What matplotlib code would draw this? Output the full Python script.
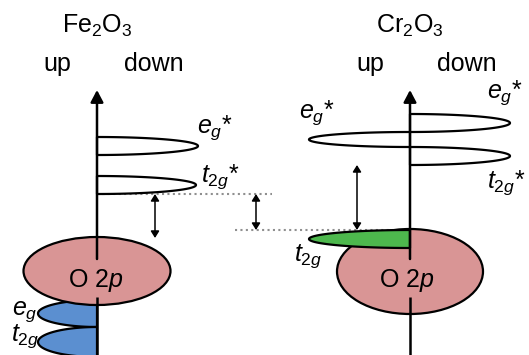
import numpy as np
import matplotlib
matplotlib.use("Agg")
import matplotlib.pyplot as plt
from matplotlib.patches import Ellipse, Polygon, FancyArrowPatch

plt.rcParams["font.family"] = ["Liberation Sans", "DejaVu Sans"]
plt.rcParams["mathtext.fontset"] = "custom"
plt.rcParams["mathtext.rm"] = "Liberation Sans"
plt.rcParams["mathtext.it"] = "Liberation Sans:italic"
plt.rcParams["mathtext.bf"] = "Liberation Sans:bold"

# Two oxides, each with its own energy axis (drawing units, y grows downward)
materials = ["Fe$_2$O$_3$", "Cr$_2$O$_3$"]
axis_x = [97, 410]

# d bands: material index, top, bottom, tip position, fill
band_material = [0, 0, 0, 0, 1, 1, 1, 1]
band_top = [137, 176, 300, 327, 114, 132, 147, 230]
band_bottom = [155, 194, 327, 357, 132, 147, 165, 248]
band_tip = [198, 196, 38, 38, 510, 309, 510, 309]
band_fill = ["white", "white", "#5b8fd0", "#5b8fd0",
             "white", "white", "white", "#4db84d"]
band_z = [3, 3, 1, 1, 3, 3, 3, 3]

# band labels: text, x, baseline
label_text = ["$e_g$*", "$t_{2g}$*", "$e_g$", "$t_{2g}$",
              "$e_g$*", "$e_g$*", "$t_{2g}$*", "$t_{2g}$"]
label_x = [197, 201, 12, 11, 299, 487, 487, 294]
label_y = [133, 182, 315, 341, 118, 98, 188, 261]

# O 2p valence bands: centre y, width, height
o2p_y = [271, 271.5]
o2p_w = [147, 146]
o2p_h = [68, 85]
o2p_color = "#d99595"

# band-edge reference levels
vbm_fe, cbm_fe = 238, 194
vbm_cr, cbm_cr = 230, 165

fig = plt.figure(figsize=(5.29, 3.55), dpi=100)
ax = fig.add_axes([0, 0, 1, 1])
ax.set_xlim(0, 529)
ax.set_ylim(355, 0)
ax.axis("off")

# dotted guide lines
ax.plot([axis_x[0], 272], [cbm_fe, cbm_fe], color="#8f8f8f", lw=1.5,
        ls=(0, (1, 1.6)), zorder=0)
ax.plot([235, axis_x[1]], [vbm_cr, vbm_cr], color="#8f8f8f", lw=1.5,
        ls=(0, (1, 1.6)), zorder=0)

# O 2p ellipses
for i in range(2):
    ax.add_patch(Ellipse((axis_x[i], o2p_y[i]), o2p_w[i], o2p_h[i],
                         facecolor=o2p_color, edgecolor="black", lw=1.6,
                         zorder=2))

# half-ellipse DOS lobes
t = np.linspace(-np.pi / 2, np.pi / 2, 120)
for m, top, bot, tip, fc, z in zip(band_material, band_top, band_bottom,
                                   band_tip, band_fill, band_z):
    x0 = axis_x[m]
    c = (top + bot) / 2
    b = (bot - top) / 2
    a = tip - x0
    pts = np.column_stack([x0 + a * np.cos(t), c + b * np.sin(t)])
    ax.add_patch(Polygon(pts, closed=True, facecolor=fc, edgecolor="black",
                         lw=1.6, zorder=z, joinstyle="round"))

# energy axes, interrupted behind the O 2p label
gap_top, gap_bot = 259, 297
for i in range(2):
    x0 = axis_x[i]
    ax.plot([x0, x0], [356, gap_bot], color="black", lw=1.8, zorder=5,
            solid_capstyle="butt")
    ax.add_patch(FancyArrowPatch((x0, gap_top), (x0, 90),
                                 arrowstyle="-|>,head_length=0.72,head_width=0.38",
                                 mutation_scale=10, color="black", lw=1.8,
                                 shrinkA=0, shrinkB=0, zorder=5))
    ax.text(x0 - 1 - 2 * i, 287, "O 2$p$", fontsize=18, ha="center",
            va="baseline", zorder=6)

# gap arrows
for x0, y0, y1 in [(155, cbm_fe, vbm_fe), (256, cbm_fe, vbm_cr),
                   (357, cbm_cr, vbm_cr)]:
    ax.add_patch(FancyArrowPatch((x0, y0), (x0, y1),
                                 arrowstyle="<|-|>,head_length=0.4,head_width=0.25",
                                 mutation_scale=10, color="black", lw=1.1,
                                 shrinkA=0, shrinkB=0, zorder=4))

# band labels
for s, x, y in zip(label_text, label_x, label_y):
    ax.text(x, y, s, fontsize=18, ha="left", va="baseline", zorder=7)

# headings
for i in range(2):
    x0 = axis_x[i]
    ax.text(x0, 33, materials[i], fontsize=18, ha="center", va="baseline")
    ax.text(x0 - 40, 71, "up", fontsize=18, ha="center", va="baseline")
    ax.text(x0 + 57, 71, "down", fontsize=18, ha="center", va="baseline")

fig.savefig("out.png", dpi=100)
